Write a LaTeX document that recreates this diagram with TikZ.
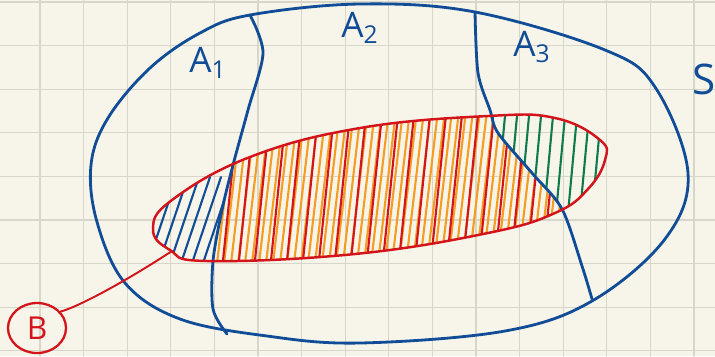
\documentclass[tikz,border=0pt]{standalone}
\usepackage{fontspec}
\setmainfont{Open Sans}
\usetikzlibrary{shapes.geometric}
\definecolor{paper}{HTML}{F7F5EA}
\definecolor{gridgray}{HTML}{D8D5C9}
\definecolor{penblue}{HTML}{114C97}
\definecolor{penred}{HTML}{D3141B}
\definecolor{penorange}{HTML}{F59C22}
\definecolor{pengreen}{HTML}{107A4F}

\begin{document}
\begin{tikzpicture}[x=0.02cm,y=-0.02cm,line cap=round,line join=round,
  bluepen/.style={penblue,line width=1.6pt},
  redpen/.style={penred,line width=1.4pt},
  hatch/.style={line width=1.2pt},
  lbl/.style={text=penblue,font=\fontsize{20}{22}\selectfont}]
  % paper
  \useasboundingbox (0,0) rectangle (715,356);
  \fill[paper] (0,0) rectangle (715,356);
  \foreach \gx in {40,83.6,...,715} \draw[gridgray,line width=0.7pt] (\gx,0) -- (\gx,356);
  \foreach \gy in {2,45.6,...,356} \draw[gridgray,line width=0.7pt] (0,\gy) -- (715,\gy);

  % event B and its hatching
  \path[save path=\bpath] plot[smooth cycle,tension=0.7] coordinates {(153,229) (172,200) (250,157) (360,128) (488,116) (555,118) (600,140) (605,160) (588,189) (555,213) (488,233) (355,254) (207,261) (170,250)};
  \begin{scope}
    \clip[use path=\bpath];
    \clip (0,0) -- plot[smooth] coordinates {(250,15) (263,53) (248,110) (233,165) (222,210) (213,261) (213,309) (227,334)} -- (0,356) -- cycle;
    \foreach \hx in {145,156,...,230} \draw[hatch,penblue] (\hx,272) -- ++(32,-95);
  \end{scope}
  \begin{scope}
    \clip[use path=\bpath];
    \clip plot[smooth] coordinates {(250,15) (263,53) (248,110) (233,165) (222,210) (213,261) (213,309) (227,334)} -- plot[smooth] coordinates {(592,299) (582,266) (562,209) (532,173) (498,133) (490,110) (478,73) (475,12)} -- cycle;
    \foreach \hx in {195,202,...,560} \draw[hatch,penorange] (\hx,272) -- ++(20,-170);
    \foreach \hx in {206,222,...,560} \draw[hatch,penred] (\hx,270) -- ++(17,-165);
  \end{scope}
  \begin{scope}
    \clip[use path=\bpath];
    \clip plot[smooth] coordinates {(475,12) (478,73) (490,110) (498,133) (532,173) (562,209) (582,266) (592,299)} -- (715,356) -- (715,0) -- cycle;
    \foreach \hx in {470,482,...,615} \draw[hatch,pengreen] (\hx,235) -- ++(12,-130);
  \end{scope}

  % sample space and partition
  \draw[bluepen] plot[smooth cycle,tension=0.6] coordinates {(250,15) (360,4) (475,12) (605,50) (655,87) (688,173) (665,239) (592,301) (505,331) (360,343) (267,336) (180,319) (125,283) (97,222) (91,165) (108,118) (150,68) (200,33)};
  \draw[bluepen] plot[smooth] coordinates {(250,15) (263,53) (248,110) (233,165) (222,210) (213,261) (213,309) (227,334)};
  \draw[bluepen] plot[smooth] coordinates {(475,12) (478,73) (490,110) (498,133) (532,173) (562,209) (582,266) (592,299)};
  \draw[redpen,use path=\bpath];

  % labels
  \node[lbl] (a1) at (208,63) {A\textsubscript{1}};
  \node[lbl] (a2) at (360,28) {A\textsubscript{2}};
  \node[lbl] (a3) at (532,47) {A\textsubscript{3}};
  \node[lbl,font=\fontsize{24}{26}\selectfont] (s) at (704,79) {S};
  \node[draw=penred,line width=1.3pt,ellipse,minimum width=1.16cm,minimum height=1cm,text=penred,font=\fontsize{18}{20}\selectfont] (blabel) at (37,328) {B};
  \coordinate (bhook) at (172,251);
  \draw[penred,line width=1.1pt] (blabel.35) .. controls (75,308) and (120,285) .. (bhook);
\end{tikzpicture}
\end{document}
